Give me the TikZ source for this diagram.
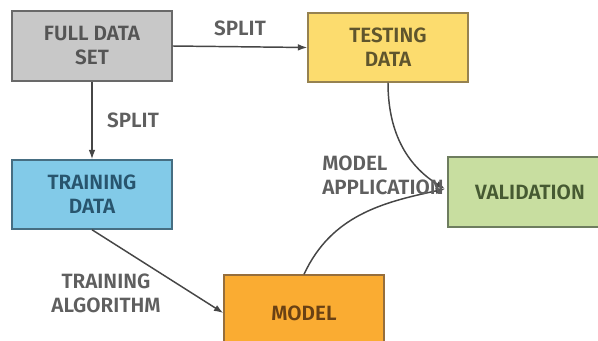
\documentclass[tikz,border=0pt]{standalone}
\usepackage{fontspec}
\setmainfont{Fira Sans}[BoldFont={Fira Sans SemiBold}]
\usepackage{tikz}
\usetikzlibrary{arrows.meta}
\definecolor{fullfill}{RGB}{200,200,200}
\definecolor{fullline}{RGB}{105,105,105}
\definecolor{fulltext}{RGB}{85,85,85}
\definecolor{testfill}{RGB}{252,220,110}
\definecolor{testline}{RGB}{150,130,80}
\definecolor{testtext}{RGB}{95,85,45}
\definecolor{trainfill}{RGB}{130,202,232}
\definecolor{trainline}{RGB}{70,110,130}
\definecolor{traintext}{RGB}{40,85,110}
\definecolor{modelfill}{RGB}{250,172,50}
\definecolor{modelline}{RGB}{150,110,60}
\definecolor{modeltext}{RGB}{105,65,20}
\definecolor{valfill}{RGB}{200,222,160}
\definecolor{valline}{RGB}{110,125,95}
\definecolor{valtext}{RGB}{70,90,50}
\definecolor{arrowgray}{RGB}{70,70,70}
\definecolor{labelgray}{RGB}{95,95,95}
\tikzset{databox/.style={draw=#1line,fill=#1fill,text=#1text,line width=1.1pt,
    align=center,inner sep=0pt,font=\fontsize{15.5}{18}\selectfont\bfseries},
    flow/.style={draw=arrowgray,line width=1.1pt,-{Latex[length=7pt,width=5pt]}},
    flowlabel/.style={text=labelgray,inner sep=0.75pt,font=\fontsize{15.5}{18}\selectfont\bfseries}}

\begin{document}
\begin{tikzpicture}[x=0.75pt,y=0.75pt,yscale=-1,xscale=1]
\useasboundingbox (0,0) rectangle (598,340);
\clip (0,0) rectangle (598,340);
\fill[white] (0,0) rectangle (598,340);

%Shape: Rectangle [id:full]
\node (full) [databox=full,minimum width=120pt,minimum height=52.5pt] at (92,46) {FULL DATA\\SET};
%Shape: Rectangle [id:test]
\node (test) [databox=test,minimum width=120pt,minimum height=51.75pt] at (388,47.5) {TESTING\\DATA};
%Shape: Rectangle [id:train]
\node (train) [databox=train,minimum width=120pt,minimum height=51.75pt] at (92,194.5) {TRAINING\\DATA};
%Shape: Rectangle [id:model]
\node (model) [databox=model,minimum width=120pt,minimum height=57pt] at (304,313) {MODEL};
%Shape: Rectangle [id:val]
\node (val) [databox=val,minimum width=123pt,minimum height=52.5pt] at (530,192) {VALIDATION};

\coordinate (valin) at (445,189);

%Straight Lines
\draw [flow] (full.east) -- (test.west);
\draw [flow] (full.south) -- (train.north);
\draw [flow] (train.south) -- (model.west);
%Curve Lines (angles are flipped by yscale=-1)
\draw [flow] (test.south) to[out=90,in=212] (valin);
\draw [flow] (model.north) to[out=-65,in=168] (valin);

% Text Node
\node (splitr) [flowlabel] at (240,28) {SPLIT};
% Text Node
\node (splitd) [flowlabel] at (133,120) {SPLIT};
% Text Node
\node (trainalg) [flowlabel,align=center] at (106,293) {TRAINING\\ALGORITHM};
% Text Node
\node (modelapp) [flowlabel,align=left,anchor=west] at (321,175) {MODEL\\APPLICATION};

\end{tikzpicture}
\end{document}
